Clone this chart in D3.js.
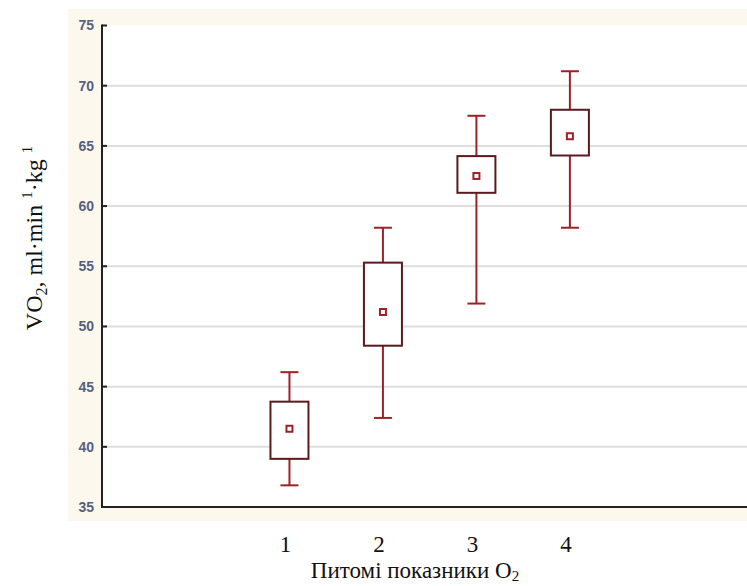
<!DOCTYPE html>
<html lang="uk">
<head>
<meta charset="UTF-8">
<title>VO2 box plot</title>
<script src="https://d3js.org/d3.v7.min.js"></script>
<style>
    body { margin: 0; background: #fff; }
    svg { display: block; }
    .tick-label { font-family: Arial, "Liberation Sans", sans-serif; font-size: 14px; font-weight: bold; fill: #56607e; }
    .serif { font-family: "Times New Roman", "Liberation Serif", serif; fill: #111; }
</style>
</head>
<body>
<div id="chart"></div>
<script>
    // data
    const groups = ["1", "2", "3", "4"];
    const whiskerLow = [36.8, 42.4, 51.9, 58.2];
    const boxLow = [39.0, 48.4, 61.1, 64.2];
    const means = [41.5, 51.2, 62.5, 65.8];
    const boxHigh = [43.75, 55.3, 64.15, 68.0];
    const whiskerHigh = [46.2, 58.2, 67.5, 71.2];
    const yTicks = [35, 40, 45, 50, 55, 60, 65, 70, 75];

    const W = 747, H = 586;
    const plot = { left: 102, right: 747, top: 25.5, bottom: 507 };

    const svg = d3.select("#chart").append("svg")
        .attr("width", W)
        .attr("height", H);

    // cream frame behind the plot
    svg.append("rect")
        .attr("x", 68).attr("y", 9)
        .attr("width", W - 68).attr("height", 521 - 9)
        .attr("fill", "#fdf8ee");

    svg.append("rect")
        .attr("x", plot.left).attr("y", plot.top)
        .attr("width", plot.right - plot.left).attr("height", plot.bottom - plot.top)
        .attr("fill", "#fff");

    const y = d3.scaleLinear().domain([35, 75]).range([plot.bottom, plot.top]);
    // groups sit at 2..5 on a numeric axis that starts at 0
    const x = d3.scaleLinear().domain([0, 6.9]).range([plot.left, plot.right]);
    const xPos = i => x(i + 2) + 0.5;

    // gridlines
    svg.append("g").selectAll("line")
        .data(yTicks.filter(t => t > 35 && t < 75))
        .enter().append("line")
        .attr("x1", plot.left).attr("x2", plot.right)
        .attr("y1", d => y(d)).attr("y2", d => y(d))
        .attr("stroke", "#dedede")
        .attr("stroke-width", 2);

    // y axis
    const yAxis = d3.axisLeft(y).tickValues(yTicks).tickSize(0).tickPadding(8);
    const gy = svg.append("g").attr("transform", `translate(${plot.left},0)`).call(yAxis);
    gy.select(".domain").remove();
    gy.selectAll("text").attr("class", "tick-label").attr("font-size", null).attr("font-family", null).attr("fill", null);

    // small inward tick marks
    svg.append("g").selectAll("line")
        .data(yTicks.filter(t => t > 35))
        .enter().append("line")
        .attr("x1", plot.left).attr("x2", plot.left + 5)
        .attr("y1", d => y(d)).attr("y2", d => y(d))
        .attr("stroke", "#222")
        .attr("stroke-width", 2);

    svg.append("line")
        .attr("x1", plot.left).attr("x2", plot.left)
        .attr("y1", plot.top - 1).attr("y2", plot.bottom + 1)
        .attr("stroke", "#222").attr("stroke-width", 2);
    svg.append("line")
        .attr("x1", plot.left - 1).attr("x2", plot.right)
        .attr("y1", plot.bottom).attr("y2", plot.bottom)
        .attr("stroke", "#222").attr("stroke-width", 2);

    // boxes
    const boxW = 38, capW = 18;
    const whiskerColor = "#9e2126", boxColor = "#5a1a1e";

    const g = svg.append("g").selectAll("g")
        .data(groups)
        .enter().append("g");

    g.append("line")
        .attr("x1", (d, i) => xPos(i)).attr("x2", (d, i) => xPos(i))
        .attr("y1", (d, i) => y(whiskerHigh[i])).attr("y2", (d, i) => y(boxHigh[i]))
        .attr("stroke", whiskerColor).attr("stroke-width", 2);
    g.append("line")
        .attr("x1", (d, i) => xPos(i)).attr("x2", (d, i) => xPos(i))
        .attr("y1", (d, i) => y(boxLow[i])).attr("y2", (d, i) => y(whiskerLow[i]))
        .attr("stroke", whiskerColor).attr("stroke-width", 2);
    g.append("line")
        .attr("x1", (d, i) => xPos(i) - capW / 2).attr("x2", (d, i) => xPos(i) + capW / 2)
        .attr("y1", (d, i) => y(whiskerHigh[i])).attr("y2", (d, i) => y(whiskerHigh[i]))
        .attr("stroke", whiskerColor).attr("stroke-width", 2);
    g.append("line")
        .attr("x1", (d, i) => xPos(i) - capW / 2).attr("x2", (d, i) => xPos(i) + capW / 2)
        .attr("y1", (d, i) => y(whiskerLow[i])).attr("y2", (d, i) => y(whiskerLow[i]))
        .attr("stroke", whiskerColor).attr("stroke-width", 2);

    g.append("rect")
        .attr("x", (d, i) => xPos(i) - boxW / 2)
        .attr("y", (d, i) => y(boxHigh[i]))
        .attr("width", boxW)
        .attr("height", (d, i) => y(boxLow[i]) - y(boxHigh[i]))
        .attr("fill", "#fff")
        .attr("stroke", boxColor).attr("stroke-width", 2);

    g.append("rect")
        .attr("x", (d, i) => xPos(i) - 3)
        .attr("y", (d, i) => y(means[i]) - 3)
        .attr("width", 6).attr("height", 6)
        .attr("fill", "#fff")
        .attr("stroke", whiskerColor).attr("stroke-width", 2);

    // category labels
    svg.append("g").selectAll("text")
        .data(groups)
        .enter().append("text")
        .attr("class", "serif")
        .attr("x", (d, i) => xPos(i) - 4)
        .attr("y", 552)
        .attr("text-anchor", "middle")
        .attr("font-size", 23)
        .text(d => d);

    // x title
    const xt = svg.append("text")
        .attr("class", "serif")
        .attr("x", 415).attr("y", 578)
        .attr("text-anchor", "middle")
        .attr("font-size", 23);
    xt.append("tspan").text("Питомі показники O");
    xt.append("tspan").attr("font-size", 15).attr("dy", 3).text("2");

    // y title
    const yt = svg.append("text")
        .attr("class", "serif")
        .attr("transform", "translate(42,238) rotate(-90)")
        .attr("text-anchor", "middle")
        .attr("font-size", 24);
    yt.append("tspan").text("VO");
    yt.append("tspan").attr("font-size", 16).attr("dy", 5).text("2");
    yt.append("tspan").attr("dy", -5).text(", ml·min ");
    yt.append("tspan").attr("font-size", 15).attr("dy", -10).text("1");
    yt.append("tspan").attr("dy", 10).text("·kg ");
    yt.append("tspan").attr("font-size", 15).attr("dy", -10).text("1");
</script>
</body>
</html>
